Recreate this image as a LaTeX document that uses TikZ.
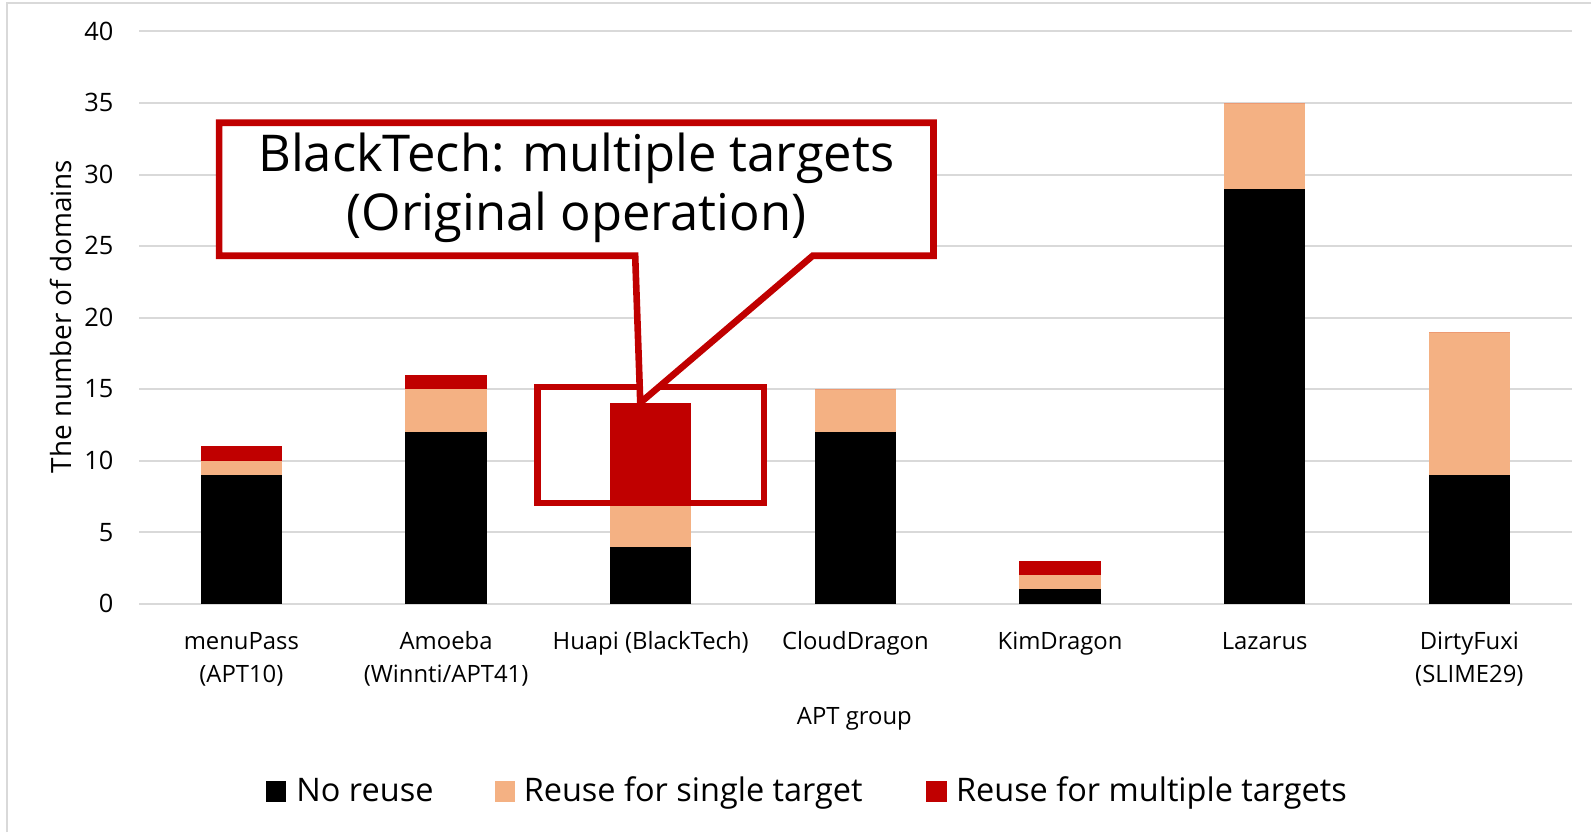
\documentclass[tikz,border=0pt]{standalone}
\usepackage{fontspec}
\setmainfont{Open Sans}
\definecolor{peach}{HTML}{F4B183}
\definecolor{deepred}{HTML}{C00000}
\definecolor{gridgray}{HTML}{D9D9D9}
\tikzset{
  gridline/.style={draw=gridgray, line width=2pt},
  ticklabel/.style={anchor=mid east, inner sep=0pt, font=\fontsize{25}{29}\selectfont},
  catlabel/.style={anchor=base, inner sep=0pt, font=\fontsize{23.5}{28}\selectfont},
  legendbox/.style={minimum width=20pt, minimum height=20pt, inner sep=0pt},
  legendtext/.style={anchor=mid west, inner sep=0pt, font=\fontsize{32}{38}\selectfont},
  redline/.style={draw=deepred, line width=6.5pt, line join=miter},
}
\begin{document}
\begin{tikzpicture}[x=1pt, y=-1pt]
\useasboundingbox (0,0) rectangle (1568,820);
\fill[white] (0,0) rectangle (1568,820);
% chart frame (left and top edges visible)
\draw[draw=gridgray, line width=2pt] (7,820) -- (7,3) -- (1568,3);

% horizontal gridlines and tick labels, 0..40 step 5
\foreach \k in {0,...,8} {
  \pgfmathsetmacro\yy{595-70.5*\k}
  \pgfmathtruncatemacro\lab{5*\k}
  \draw[gridline] (137,\yy) -- (1549,\yy);
  \node[ticklabel] (tick\k) at (112,{\yy+6}) {\lab};
}

% highlight frame background
\fill[white] (530,381.5) rectangle (753,495.7);

% stacked bars: index / no reuse / +single / +multiple (cumulative)
\foreach \i/\a/\b/\c in {0/9/10/11, 1/12/15/16, 2/4/7/14, 3/12/15/15, 4/1/2/3, 5/29/35/35, 6/9/19/19} {
  \pgfmathsetmacro\cx{137+100.85+201.7*\i}
  \fill[black] ({\cx-40},595) rectangle ({\cx+40},{595-14.1*\a});
  \fill[peach] ({\cx-40},{595-14.1*\a}) rectangle ({\cx+40},{595-14.1*\b});
  \fill[deepred] ({\cx-40},{595-14.1*\b}) rectangle ({\cx+40},{595-14.1*\c});
}

% category labels
\node[catlabel] (cat0) at (237.9,640) {menuPass};
\node[catlabel] (cat0b) at (237.9,673) {(APT10)};
\node[catlabel] (cat1) at (439.6,640) {Amoeba};
\node[catlabel] (cat1b) at (439.6,673) {(Winnti/APT41)};
\node[catlabel] (cat2) at (641.3,640) {Huapi (BlackTech)};
\node[catlabel] (cat3) at (843.0,640) {CloudDragon};
\node[catlabel] (cat4) at (1044.7,640) {KimDragon};
\node[catlabel] (cat5) at (1246.4,640) {Lazarus};
\node[catlabel] (cat6) at (1448.1,640) {DirtyFuxi};
\node[catlabel] (cat6b) at (1448.1,673) {(SLIME29)};

% axis titles
\node[catlabel, anchor=base] (xtitle) at (842,714) {APT group};
\node[font=\fontsize{27.5}{32}\selectfont, rotate=90, inner sep=0pt] (ytitle) at (60,312) {The number of domains};

% highlight frame around the BlackTech bar
\draw[redline] (530,381.5) rectangle (753,495.7);

% callout with pointer
\coordinate (tl) at (216,121);
\coordinate (tr) at (920,121);
\coordinate (br) at (920,252);
\coordinate (pr) at (801,252);
\coordinate (tip) at (631,397);
\coordinate (pl) at (626,252);
\coordinate (bl) at (216,252);
\filldraw[fill=white, redline] (tl) -- (tr) -- (br) -- (pr) -- (tip) -- (pl) -- (bl) -- cycle;
\node[align=center, inner sep=0pt, font=\fontsize{50}{58}\selectfont] (callout) at (568,185)
  {BlackTech: multiple targets\\(Original operation)};

% legend
\node[legendbox, fill=black] (key1) at (272,780) {};
\node[legendtext] (lab1) at (292,787) {No reuse};
\node[legendbox, fill=peach] (key2) at (498,780) {};
\node[legendtext] (lab2) at (516,787) {Reuse for single target};
\node[legendbox, fill=deepred] (key3) at (923,780) {};
\node[legendtext] (lab3) at (942,787) {Reuse for multiple targets};
\end{tikzpicture}
\end{document}
